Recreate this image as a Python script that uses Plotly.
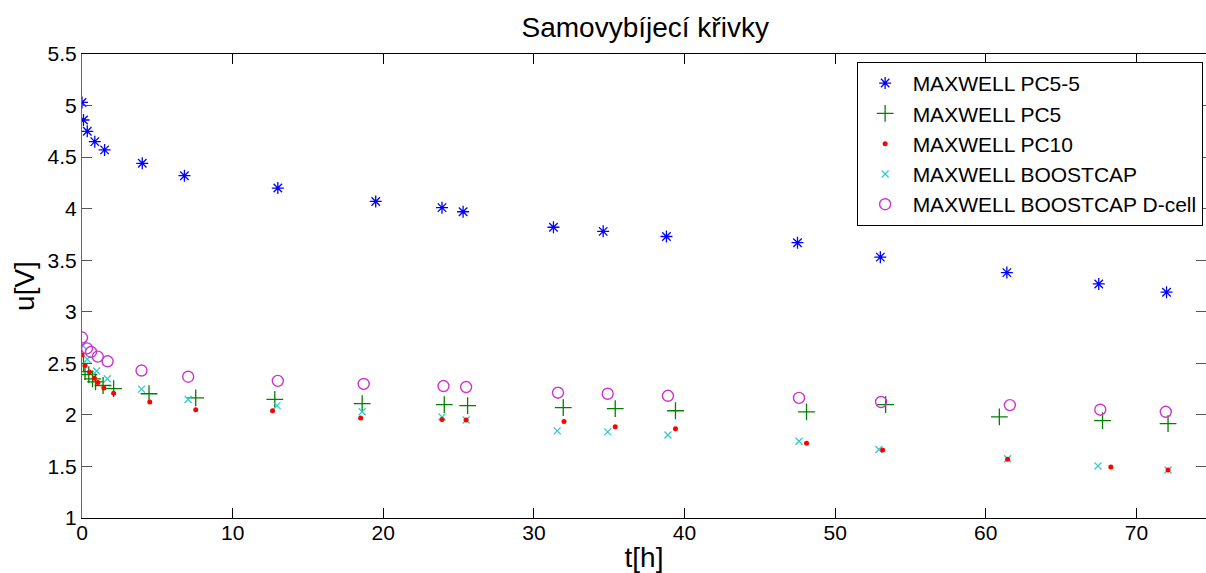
import plotly.graph_objects as go

# ---- data ----
t_pc55 = [0, 0.1, 0.35, 0.85, 1.5, 4.0, 6.8, 13.0, 19.5, 23.9, 25.3, 31.3, 34.6, 38.8, 47.5, 53.0, 61.4, 67.5, 72.0]
u_pc55 = [5.03, 4.86, 4.75, 4.65, 4.57, 4.44, 4.32, 4.20, 4.07, 4.01, 3.97, 3.82, 3.78, 3.73, 3.67, 3.53, 3.38, 3.27, 3.19]

t_pc5 = [0.1, 0.2, 0.45, 0.7, 0.9, 1.4, 2.1, 4.45, 7.55, 12.8, 18.6, 24.05, 25.6, 31.95, 35.4, 39.4, 48.1, 53.35, 60.9, 67.75, 72.1]
u_pc5 = [2.50, 2.42, 2.39, 2.35, 2.32, 2.285, 2.255, 2.205, 2.165, 2.15, 2.11, 2.10, 2.09, 2.07, 2.06, 2.04, 2.03, 2.10, 1.98, 1.945, 1.915]

t_pc10 = [0, 0.2, 0.5, 0.82, 1.05, 1.45, 2.1, 4.5, 7.55, 12.65, 18.5, 23.9, 25.5, 32.0, 35.4, 39.4, 48.1, 53.15, 61.45, 68.3, 72.1]
u_pc10 = [2.58, 2.48, 2.415, 2.355, 2.315, 2.26, 2.21, 2.125, 2.05, 2.04, 1.97, 1.955, 1.95, 1.935, 1.885, 1.865, 1.725, 1.66, 1.57, 1.495, 1.465]

t_boost = [0.05, 0.35, 0.97, 1.68, 3.95, 7.05, 12.95, 18.6, 23.9, 25.5, 31.55, 34.9, 38.9, 47.6, 52.9, 61.45, 67.45, 72.1]
u_boost = [2.67, 2.54, 2.425, 2.35, 2.25, 2.15, 2.09, 2.03, 1.98, 1.95, 1.845, 1.835, 1.805, 1.745, 1.665, 1.575, 1.505, 1.465]

t_dcell = [0, 0.33, 0.6, 1.05, 1.7, 3.95, 7.05, 13.0, 18.7, 24.0, 25.5, 31.6, 34.9, 38.9, 47.6, 53.05, 61.6, 67.6, 71.95]
u_dcell = [2.75, 2.645, 2.61, 2.565, 2.52, 2.43, 2.37, 2.33, 2.30, 2.28, 2.27, 2.215, 2.205, 2.185, 2.165, 2.125, 2.095, 2.05, 2.03]

names = ["MAXWELL PC5-5", "MAXWELL PC5", "MAXWELL PC10", "MAXWELL BOOSTCAP", "MAXWELL BOOSTCAP D-cell"]
x_ticks = [0, 10, 20, 30, 40, 50, 60, 70]
y_ticks = [1, 1.5, 2, 2.5, 3, 3.5, 4, 4.5, 5, 5.5]

FONT = "Liberation Sans, Arial, sans-serif"

fig = go.Figure()
fig.add_trace(go.Scatter(x=t_pc55, y=u_pc55, mode="markers", name=names[0], legendrank=1,
                         marker=dict(symbol="asterisk-open", size=10, color="#0000ff",
                                     line=dict(width=1.3, color="#0000ff"))))
fig.add_trace(go.Scatter(x=t_pc5, y=u_pc5, mode="markers", name=names[1], legendrank=2,
                         marker=dict(symbol="cross-thin-open", size=12, color="#008000",
                                     line=dict(width=1.3, color="#008000"))))
fig.add_trace(go.Scatter(x=t_boost, y=u_boost, mode="markers", name=names[3], legendrank=4,
                         marker=dict(symbol="x-thin-open", size=7, color="#33cccc",
                                     line=dict(width=1.3, color="#33cccc"))))
fig.add_trace(go.Scatter(x=t_pc10, y=u_pc10, mode="markers", name=names[2], legendrank=3,
                         marker=dict(symbol="circle", size=5, color="#ff0000",
                                     line=dict(width=0))))
fig.add_trace(go.Scatter(x=t_dcell, y=u_dcell, mode="markers", name=names[4], legendrank=5,
                         marker=dict(symbol="circle-open", size=11, color="#cc33cc",
                                     line=dict(width=1.4, color="#cc33cc"))))

fig.update_layout(
    width=1206, height=573,
    margin=dict(l=82, r=0, t=54, b=55),
    paper_bgcolor="white", plot_bgcolor="white",
    font=dict(family=FONT, size=21, color="black"),
    title=dict(text="Samovybíjecí křivky", x=0.535, xanchor="center", y=0.952, yanchor="middle",
               font=dict(family=FONT, size=28, color="black")),
    showlegend=True,
    legend=dict(x=0.997, xanchor="right", y=0.983, yanchor="top",
                bgcolor="white", bordercolor="black", borderwidth=1, itemwidth=45,
                font=dict(family=FONT, size=21, color="black")),
)
fig.update_xaxes(range=[0, 74.62], tickvals=x_ticks, ticktext=[str(v) for v in x_ticks],
                 ticks="inside", ticklen=10, tickcolor="black", showline=True, linecolor="black",
                 linewidth=1, mirror="ticks", showgrid=False, zeroline=False,
                 title=dict(text="t[h]", standoff=8, font=dict(family=FONT, size=28)),
                 tickfont=dict(family=FONT, size=21), ticklabelstandoff=-4)
fig.update_yaxes(range=[1, 5.5], tickvals=y_ticks, ticktext=[("%g" % v) for v in y_ticks],
                 ticks="inside", ticklen=10, tickcolor="#555555", showline=True, linecolor="#666666",
                 linewidth=1, mirror="ticks", showgrid=False, zeroline=False,
                 title=dict(text="u[V]", standoff=4, font=dict(family=FONT, size=28)),
                 tickfont=dict(family=FONT, size=21))

fig.write_html("out.html")
